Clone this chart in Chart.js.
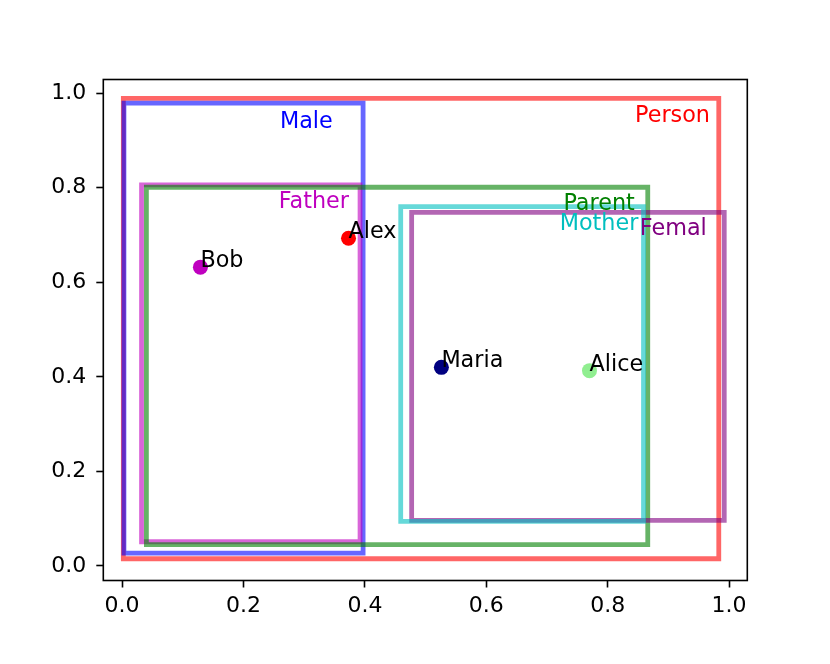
<!DOCTYPE html>
<html>
<head>
<meta charset="utf-8">
<script src="https://cdn.jsdelivr.net/npm/chart.js@4.4.1/dist/chart.umd.min.js"></script>
<style>
  html, body { margin: 0; padding: 0; background: #fff; }
  #wrap { width: 830px; height: 664px; }
</style>
</head>
<body>
<div id="wrap"><canvas id="chart" width="830" height="664"></canvas></div>
<script>
// concept boxes, corners in data units
const boxNames = ['Person', 'Male', 'Father', 'Parent', 'Mother', 'Femal'];
const boxX0 = [0.002, 0.003, 0.032, 0.040, 0.459, 0.477];
const boxY0 = [0.015, 0.027, 0.051, 0.045, 0.094, 0.096];
const boxX1 = [0.983, 0.397, 0.392, 0.866, 0.859, 0.992];
const boxY1 = [0.989, 0.979, 0.806, 0.801, 0.760, 0.748];
// where each box name is written (left end, baseline)
const labelX = [0.845, 0.260, 0.258, 0.727, 0.721, 0.853];
const labelY = [0.939, 0.926, 0.757, 0.752, 0.711, 0.699];
// drawing order of the boxes (bottom first)
const boxLayer = [0, 1, 2, 3, 5, 4];

// individuals
const pointNames = ['Bob', 'Alex', 'Maria', 'Alice'];
const pointX = [0.129, 0.373, 0.526, 0.770];
const pointY = [0.632, 0.693, 0.420, 0.413];

const xTicks = [0.0, 0.2, 0.4, 0.6, 0.8, 1.0];
const yTicks = [0.0, 0.2, 0.4, 0.6, 0.8, 1.0];

// styles
const boxColors = ['rgba(255,0,0,0.6)', 'rgba(0,0,255,0.6)', 'rgba(191,0,191,0.6)',
                   'rgba(0,128,0,0.6)', 'rgba(0,191,191,0.6)', 'rgba(128,0,128,0.6)'];
const labelColors = ['#ff0000', '#0000ff', '#bf00bf', '#008000', '#00bfbf', '#800080'];
const pointColors = ['#bf00bf', '#ff0000', '#000080', '#90ee90'];

Chart.defaults.font.family = '"DejaVu Sans", sans-serif';
Chart.defaults.font.size = 22;
Chart.defaults.color = '#000';

// outline starts mid bottom edge so the joins stay clean
function boxPath(i) {
    const x0 = boxX0[i], x1 = boxX1[i], y0 = boxY0[i], y1 = boxY1[i];
    const xm = (x0 + x1) / 2;
    return [{x: xm, y: y0}, {x: x1, y: y0}, {x: x1, y: y1},
            {x: x0, y: y1}, {x: x0, y: y0}, {x: xm, y: y0}];
}

const datasets = boxNames.map((name, i) => ({
    label: name,
    data: boxPath(i),
    showLine: true,
    borderColor: boxColors[i],
    borderWidth: 4.8,
    borderJoinStyle: 'miter',
    borderCapStyle: 'butt',
    pointRadius: 0,
    fill: false,
    tension: 0,
    order: 10 - boxLayer[i]
}));

datasets.push({
    label: 'individuals',
    data: pointX.map((v, i) => ({x: v, y: pointY[i]})),
    backgroundColor: pointColors,
    borderWidth: 0,
    pointRadius: 7.5,
    order: 0
});

const annotate = {
    id: 'annotate',
    afterDatasetsDraw(chart) {
        const ctx = chart.ctx;
        const a = chart.chartArea;
        const x = chart.scales.x, y = chart.scales.y;
        ctx.save();
        ctx.font = '22.3px "DejaVu Sans", sans-serif';
        ctx.textAlign = 'left';
        ctx.textBaseline = 'alphabetic';
        boxNames.forEach((n, i) => {
            ctx.fillStyle = labelColors[i];
            ctx.fillText(n, x.getPixelForValue(labelX[i]), y.getPixelForValue(labelY[i]));
        });
        ctx.fillStyle = '#000';
        pointNames.forEach((n, i) => {
            ctx.fillText(n, x.getPixelForValue(pointX[i]), y.getPixelForValue(pointY[i]));
        });
        ctx.strokeStyle = '#000';
        ctx.lineWidth = 1.6;
        ctx.strokeRect(a.left, a.top, a.right - a.left, a.bottom - a.top);
        ctx.restore();
    }
};

const axisGrid = {
    drawOnChartArea: false,
    tickLength: 7,
    tickColor: '#000',
    tickWidth: 1.6
};

new Chart(document.getElementById('chart').getContext('2d'), {
    type: 'scatter',
    data: { datasets: datasets },
    options: {
        responsive: false,
        animation: false,
        devicePixelRatio: 1,
        layout: { padding: { top: 79.5, right: 82.7, left: 0, bottom: 0 } },
        plugins: {
            legend: { display: false },
            tooltip: { enabled: false }
        },
        scales: {
            x: {
                type: 'linear',
                min: -0.031,
                max: 1.030,
                afterBuildTicks: s => { s.ticks = xTicks.map(v => ({ value: v })); },
                afterFit: s => { s.height = 83.5; },
                ticks: { callback: v => v.toFixed(1), padding: 6, maxRotation: 0, autoSkip: false },
                grid: axisGrid,
                border: { display: false }
            },
            y: {
                type: 'linear',
                min: -0.031,
                max: 1.029,
                afterBuildTicks: s => { s.ticks = yTicks.map(v => ({ value: v })); },
                afterFit: s => { s.width = 103.3; },
                ticks: { callback: v => v.toFixed(1), padding: 10, autoSkip: false },
                grid: axisGrid,
                border: { display: false }
            }
        }
    },
    plugins: [annotate]
});
</script>
</body>
</html>
